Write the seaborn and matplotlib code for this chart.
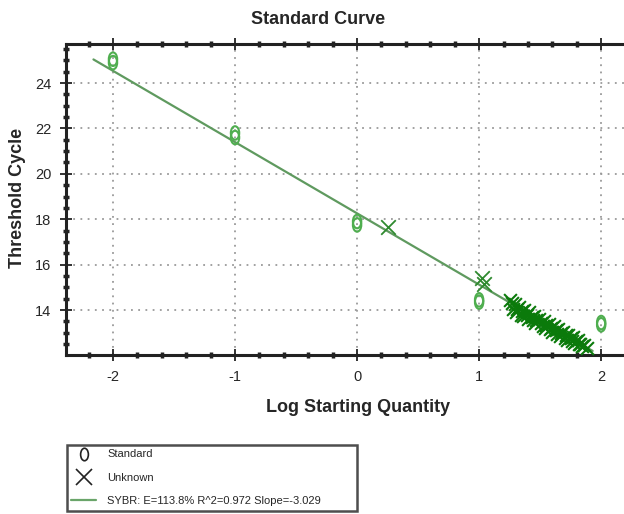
import matplotlib
matplotlib.use("Agg")
import matplotlib.pyplot as plt
from matplotlib.lines import Line2D
from matplotlib.ticker import MultipleLocator
from matplotlib.path import Path
from matplotlib.transforms import Affine2D
import seaborn as sns
import pandas as pd

# ---- data ----
std_x = [-2, -2, -1, -1, 0, 0, 1, 1, 2, 2]
std_y = [24.9, 25.05, 21.6, 21.8, 17.75, 17.9, 14.35, 14.45, 13.35, 13.45]

unk_x = [0.25, 1.02, 1.04,
         1.25, 1.27, 1.29, 1.31, 1.33, 1.35, 1.37, 1.39, 1.41, 1.43, 1.45,
         1.47, 1.49, 1.51, 1.53, 1.55, 1.57, 1.59, 1.61, 1.63, 1.65, 1.67,
         1.69, 1.71, 1.73, 1.75, 1.77, 1.79, 1.81, 1.83, 1.86, 1.88,
         1.30, 1.36, 1.44, 1.52, 1.58, 1.64, 1.70, 1.76, 1.82,
         1.28, 1.34, 1.40, 1.46, 1.54, 1.60, 1.66, 1.72, 1.78, 1.84]
unk_y = [17.68, 15.4, 15.15,
         14.45, 14.30, 14.25, 14.05, 14.15, 13.95, 14.00, 13.80, 13.90, 13.70, 13.75,
         13.55, 13.62, 13.45, 13.50, 13.35, 13.40, 13.22, 13.30, 13.10, 13.15, 12.98,
         13.05, 12.88, 12.92, 12.75, 12.82, 12.65, 12.70, 12.52, 12.45, 12.35,
         13.90, 13.75, 13.55, 13.30, 13.15, 12.95, 12.78, 12.62, 12.50,
         14.05, 13.80, 13.62, 13.45, 13.20, 13.05, 12.85, 12.70, 12.55, 12.40]

line_x = [-2.16, 1.93]
line_y = [25.04, 12.20]

x_ticks = [-2, -1, 0, 1, 2]
y_ticks = [14, 16, 18, 20, 22, 24]

title_text = "Standard Curve"
x_label = "Log Starting Quantity"
y_label = "Threshold Cycle"
legend_labels = ["Standard", "Unknown", "SYBR: E=113.8% R^2=0.972 Slope=-3.029"]

# ---- plot ----
sns.set_style("white")
plt.rcParams['font.family'] = ['Liberation Sans', 'DejaVu Sans']

fig = plt.figure(figsize=(6.24, 5.14), dpi=100)
W, H = 624, 514
ax_left, ax_right, ax_top, ax_bottom = 66, 650, 44, 355
ax = fig.add_axes([ax_left / W, 1 - ax_bottom / H, (ax_right - ax_left) / W, (ax_bottom - ax_top) / H])

ellipse = Path.unit_circle().transformed(Affine2D().scale(0.62, 1.0))

std_df = pd.DataFrame({"x": std_x, "y": std_y})
unk_df = pd.DataFrame({"x": unk_x, "y": unk_y})
line_df = pd.DataFrame({"x": line_x, "y": line_y})

sns.lineplot(data=line_df, x="x", y="y", ax=ax, color="#5f9a5f", linewidth=1.6, zorder=2)
sns.scatterplot(data=std_df, x="x", y="y", ax=ax, marker=ellipse, s=95,
                facecolor="none", edgecolor="#4fae4f", linewidth=1.5, zorder=3)
sns.scatterplot(data=unk_df.iloc[:3], x="x", y="y", ax=ax, marker="x", s=110,
                color="#2f8a2f", linewidth=1.3, zorder=4)
sns.scatterplot(data=unk_df.iloc[3:], x="x", y="y", ax=ax, marker="x", s=85,
                color="#0b7a0b", linewidth=1.5, zorder=4)

ax.set_xlim(-2.385, 2.40)
ax.set_ylim(12.02, 25.72)
ax.set_xticks(x_ticks)
ax.set_yticks(y_ticks)
ax.set_xticklabels([f"{v:d}" for v in x_ticks])
ax.set_yticklabels([f"{v:d}" for v in y_ticks])
ax.xaxis.set_minor_locator(MultipleLocator(0.2))
ax.yaxis.set_minor_locator(MultipleLocator(0.5))

ax.grid(True, which="major", color="#9a9a9a", linestyle=(0, (1, 3)), linewidth=1.3)
ax.set_axisbelow(True)

for side in ["left", "top", "bottom"]:
    ax.spines[side].set_visible(True)
    ax.spines[side].set_color("#222222")
    ax.spines[side].set_linewidth(2.2)
ax.spines["right"].set_visible(False)

ax.tick_params(axis="both", which="major", direction="inout", length=9, width=1.3,
               color="#222222", labelsize=10.5, pad=6, top=True, bottom=True, left=True)
ax.tick_params(axis="both", which="minor", direction="inout", length=4, width=2.5,
               color="#222222", top=True, bottom=True, left=True)

ax.set_xlabel("")
ax.set_ylabel("")

fig.text(318 / W, 1 - 19 / H, title_text, ha="center", va="center",
         fontsize=13, fontweight="bold")
fig.text(358 / W, 1 - 408 / H, x_label, ha="center", va="center",
         fontsize=13, fontweight="bold")
fig.text(18 / W, 1 - 198 / H, y_label, ha="center", va="center",
         fontsize=13, fontweight="bold", rotation=90)

handles = [
    Line2D([], [], marker=ellipse, linestyle="none", markerfacecolor="none",
           markeredgecolor="#222222", markersize=9, markeredgewidth=1.2),
    Line2D([], [], marker="x", linestyle="none", color="#222222",
           markersize=11, markeredgewidth=1.2),
    Line2D([], [], color="#6aa56a", linewidth=1.6),
]
leg = fig.legend(handles, legend_labels, loc="upper left",
                 bbox_to_anchor=(67 / W, 1 - 445 / H, (357 - 67) / W, 0.0001),
                 mode="expand", frameon=True, fancybox=False, fontsize=8,
                 handlelength=2.2, handletextpad=1.0, labelspacing=1.2,
                 borderpad=0.4, borderaxespad=0)
leg.get_frame().set_edgecolor("#222222")
leg.get_frame().set_linewidth(1.8)

fig.savefig("out.png", dpi=100)
